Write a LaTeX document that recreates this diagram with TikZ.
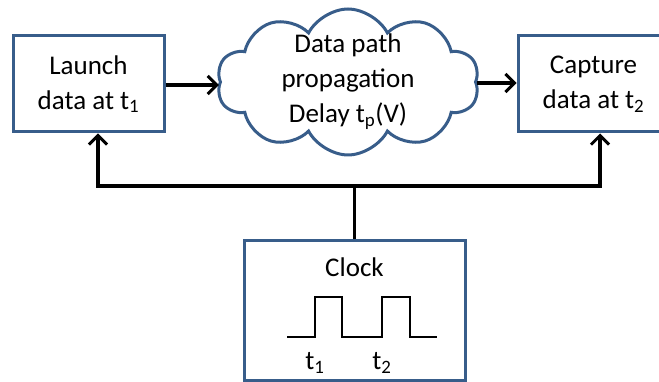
\documentclass[tikz,border=0pt]{standalone}
\usepackage{fontspec}
\setmainfont{Carlito}
\usetikzlibrary{shapes.symbols, arrows.meta}

\definecolor{boxblue}{RGB}{56,93,138}

\begin{document}
\begin{tikzpicture}[x = 1pt, y = -1pt,
	box/.style = {draw = boxblue, line width = 3pt, fill = white, align = center, inner sep = 0pt},
	wire/.style = {line width = 3.5pt, black},
	arr/.style = {wire, -{Straight Barb[length = 9pt, width = 18pt, line width = 3pt]}},
	every node/.style = {font = \fontsize{27}{35}\selectfont}]
	\useasboundingbox (0, 0) rectangle (659, 382);

	\node[box, minimum width = 151pt, minimum height = 96pt] (launch) at (88.5, 84) {Launch\\data at t\textsubscript{1}};
	\node[box, minimum width = 151pt, minimum height = 96pt] (capture) at (593.5, 84) {Capture\\data at t\textsubscript{2}};
	\node[box, cloud, cloud puffs = 10, cloud puff arc = 125, cloud ignores aspect, minimum width = 262pt, minimum height = 146pt] (cloud) at (348, 82) {};
	\node[align = center] (delay) at (348, 82) {Data path\\propagation\\Delay t\textsubscript{p}(V)};
	\node[box, minimum width = 221pt, minimum height = 139pt] (clock) at (354.5, 310.5) {};
	\node (clk) at (354.5, 267) {Clock};

	\draw[arr] (launch.east |- 0, 85) -- (cloud.west |- 0, 85);
	\draw[arr] (cloud.east |- 0, 83) -- (capture.west |- 0, 83);

	\coordinate (bus) at (clock.north |- 0, 186);
	\coordinate (busl) at (98, 186);
	\coordinate (busr) at (600, 186);
	\draw[wire] (clock.north) -- (bus);
	\draw[wire, line cap = rect] (busl) -- (busr);
	\draw[arr] (busl) -- (busl |- launch.south);
	\draw[arr] (busr) -- (busr |- capture.south);

	\draw[line width = 2.2pt, line join = miter] (287, 337) -- (315, 337) -- (315, 297) -- (342, 297) -- (342, 337)
		-- (382, 337) -- (382, 297) -- (410, 297) -- (410, 337) -- (437, 337);
	\node (t1) at (315, 363) {t\textsubscript{1}};
	\node (t2) at (382, 363) {t\textsubscript{2}};
\end{tikzpicture}
\end{document}
